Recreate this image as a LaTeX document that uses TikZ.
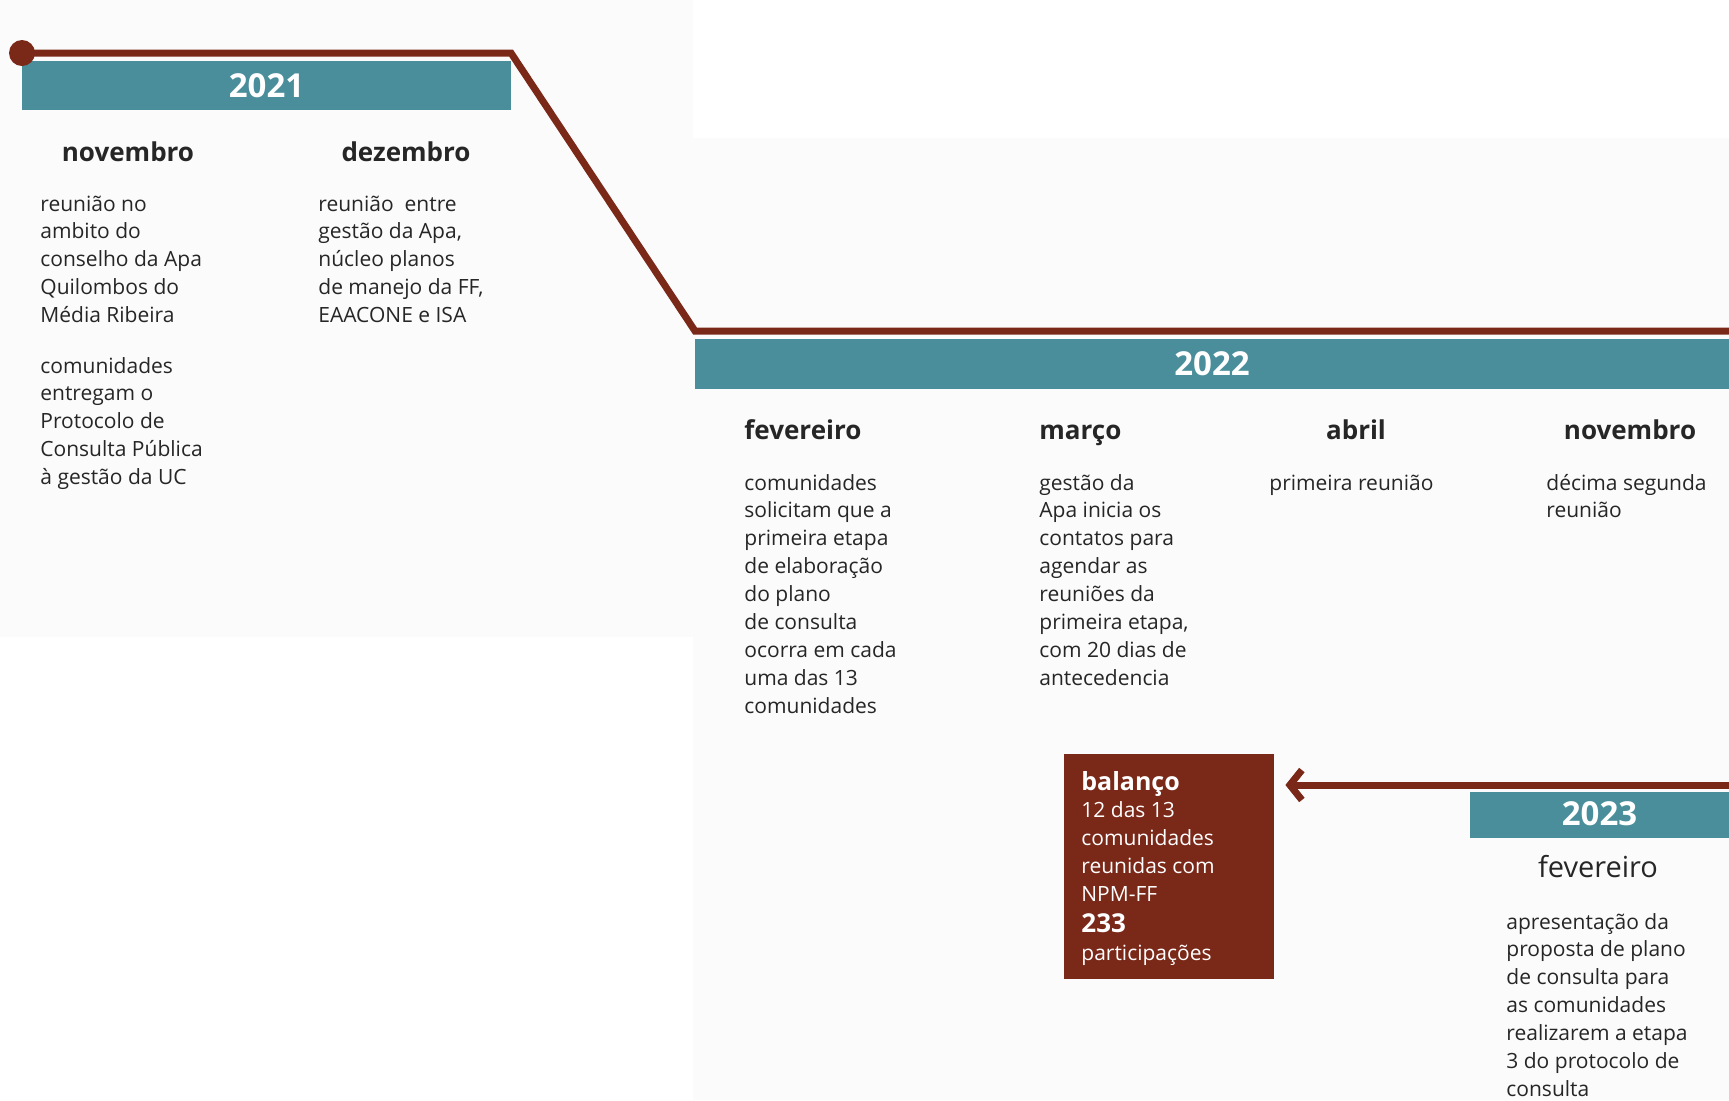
\documentclass[tikz,border=0pt]{standalone}
\usepackage{fontspec}
\setmainfont{Open Sans}
\usetikzlibrary{arrows.meta}
\definecolor{teal21}{HTML}{4A8E9B}
\definecolor{rust}{HTML}{7A2818}
\definecolor{ink}{HTML}{262626}
\newcommand{\mlines}[1]{\begin{tabular}[t]{@{}l@{}}#1\end{tabular}}
\begin{document}
\begin{tikzpicture}[x=0.5pt,y=-0.5pt,
  bar/.style={fill=teal21, text=white, font=\fontsize{16.5}{19}\selectfont\bfseries, inner sep=0, anchor=center},
  month/.style={font=\fontsize{13}{15}\selectfont\bfseries, text=ink, inner sep=0, anchor=base},
  body/.style={font=\fontsize{10.5}{13.95}\selectfont, text=ink, inner sep=0, anchor=base west},
  tl/.style={draw=rust, line width=3.5pt}]
\useasboundingbox (0,0) rectangle (1729,1100);
\fill[black!1.5] (0,0) rectangle (693,637);
\fill[black!1.5] (693,138) rectangle (1729,1100);
% year bars
\node[bar, minimum width=244.5pt, minimum height=24.5pt] (y21) at (266.5,85.5) {2021};
\node[bar, minimum width=517pt, minimum height=25pt] (y22) at (1212,364) {2022};
\node[bar, minimum width=129.5pt, minimum height=23pt] (y23) at (1599.5,815) {\raisebox{1.4pt}{2023}};
% timeline
\coordinate (t0) at (22,53);
\coordinate (t1) at (511,53);
\coordinate (t2) at (695,331);
\coordinate (t3) at (1729,331);
\draw[tl] (t0) -- (t1) -- (t2) -- (t3);
\fill[rust] (t0) circle (6.5pt);
% balance box
\node[fill=rust, minimum width=105pt, minimum height=112.5pt, inner sep=0] (bal) at (1169,866.5) {};
\node[body, text=white] (balt) at (1081,790) {\mlines{{\fontsize{12.5}{13.95}\selectfont\bfseries balanço}\\12 das 13\\comunidades\\reunidas com\\NPM-FF\\[1.5pt]{\fontsize{13}{13.95}\selectfont\bfseries 233}\\participações}};
\coordinate (a0) at (1729,785);
\draw[tl, -{Straight Barb[length=6pt,width=15pt]}, shorten >=5.5pt] (a0) -- (bal.east |- a0);
% 2021
\node[month] (m1) at (128,161) {novembro};
\node[month] (m2) at (406,161) {dezembro};
\node[body] (d1) at (40,211) {\mlines{reunião no\\ambito do\\conselho da Apa\\Quilombos do\\Média Ribeira}};
\node[body] (d1b) at (40,373) {\mlines{comunidades\\entregam o\\Protocolo de\\Consulta Pública\\à gestão da UC}};
\node[body] (d2) at (318,211) {\mlines{reunião\ \ entre\\gestão da Apa,\\núcleo planos\\de manejo da FF,\\EAACONE e ISA}};
% 2022
\node[month, anchor=base west] (m3) at (744,439) {fevereiro};
\node[month, anchor=base west] (m4) at (1039,439) {março};
\node[month] (m5) at (1356,439) {abril};
\node[month] (m6) at (1630,439) {novembro};
\node[body] (d3) at (744,490) {\mlines{comunidades\\solicitam que a\\primeira etapa\\de elaboração\\do plano\\de consulta\\ocorra em cada\\uma das 13\\comunidades}};
\node[body] (d4) at (1039,490) {\mlines{gestão da\\Apa inicia os\\contatos para\\agendar as\\reuniões da\\primeira etapa,\\com 20 dias de\\antecedencia}};
\node[body] (d5) at (1269,490) {\mlines{primeira reunião}};
\node[body] (d6) at (1546,490) {\mlines{décima segunda\\reunião}};
% 2023
\node[font=\fontsize{14.5}{17}\selectfont, text=ink, inner sep=0, anchor=base] (m7) at (1598,877) {fevereiro};
\node[body] (d7) at (1506,929) {\mlines{apresentação da\\proposta de plano\\de consulta para\\as comunidades\\realizarem a etapa\\3 do protocolo de\\consulta}};
\end{tikzpicture}
\end{document}
